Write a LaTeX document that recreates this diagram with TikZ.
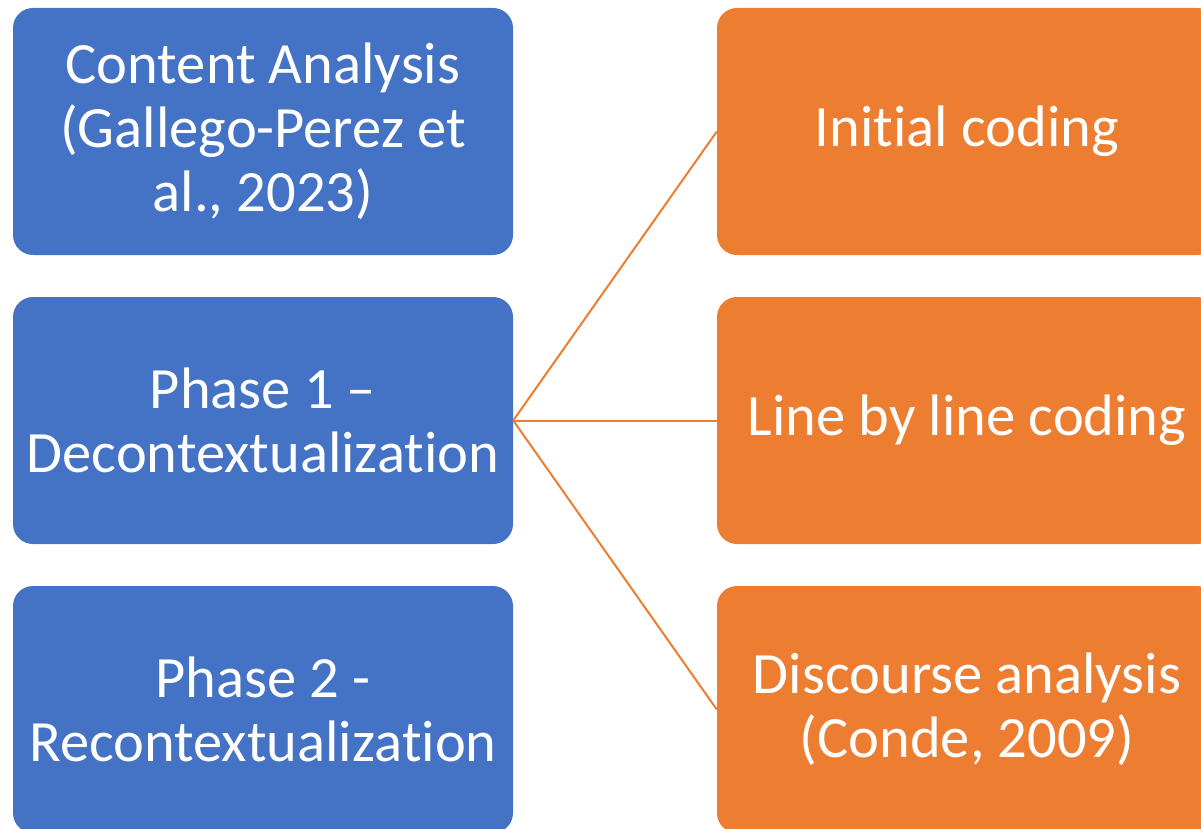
\documentclass[tikz,border=0pt]{standalone}
\usepackage{fontspec}
\setmainfont[Ligatures = NoCommon]{Carlito}
\definecolor{phaseblue}{HTML}{4472C4}
\definecolor{codeorange}{HTML}{ED7D31}
\tikzset{
  box/.style = {rounded corners = 20pt, minimum width = 500pt, minimum height = 247pt,
    text = white, align = center, inner sep = 0pt,
    font = \fontsize{58.5}{64}\selectfont},
  phase/.style = {box, fill = phaseblue},
  coding/.style = {box, fill = codeorange},
  link/.style = {draw = codeorange, line width = 2pt}
}
\begin{document}
\begin{tikzpicture}[x = 1pt, y = -1pt]
\useasboundingbox (0,0) rectangle (1201,829);
\clip (0,0) rectangle (1201,829);
\node[phase](CA)at(263,131.5){Content Analysis\\(Gallego-Perez et\\al., 2023)};
\node[phase](P1)at(263,420.5){Phase 1 –\\Decontextualization};
\node[phase](P2)at(263,709.5){Phase 2 -\\Recontextualization};
\node[coding](IC)at(967,131.5){Initial coding};
\node[coding](LC)at(967,420.5){Line by line coding};
\node[coding](DA)at(967,709.5){Discourse analysis\\(Conde, 2009)};
\draw[link](P1.east)--(IC.west);
\draw[link](P1.east)--(LC.west);
\draw[link](P1.east)--(DA.west);
\end{tikzpicture}
\end{document}
